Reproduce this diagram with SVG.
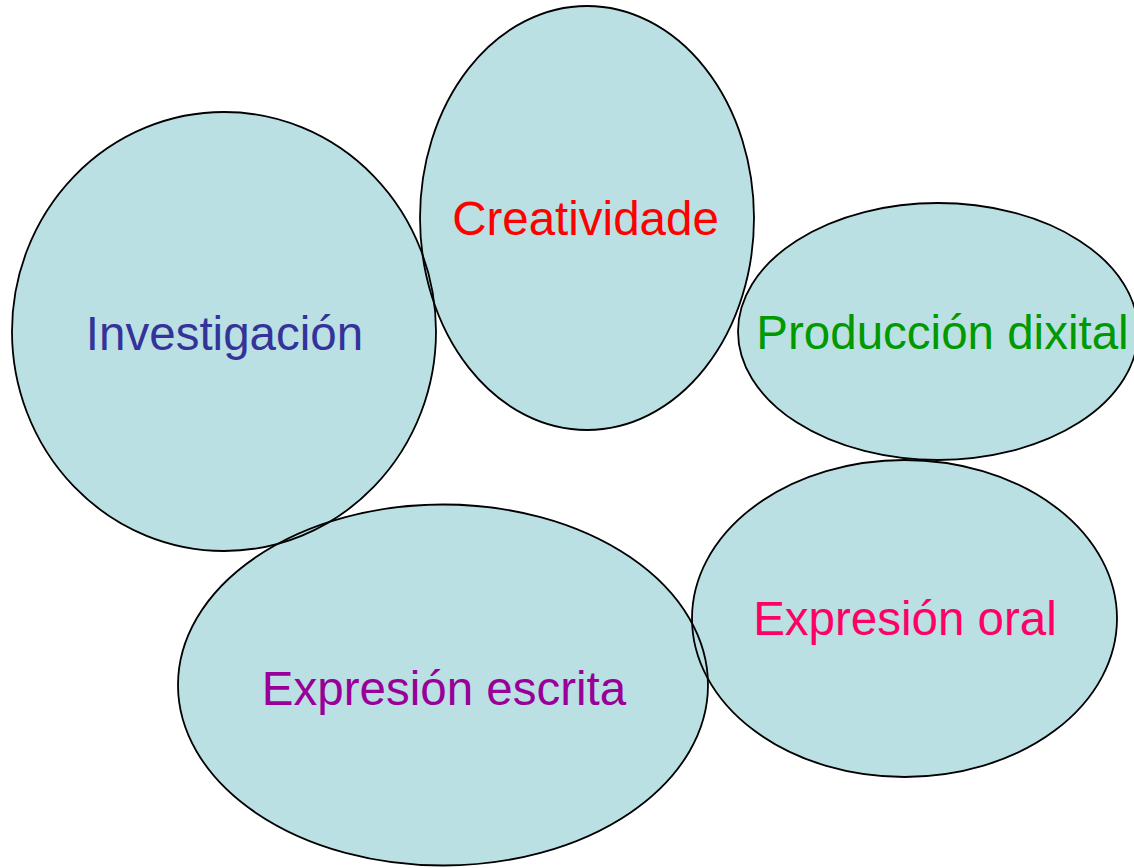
<svg xmlns="http://www.w3.org/2000/svg" width="1134" height="868" viewBox="0 0 1134 868">
<style>
.bub{fill:#BBE0E3;stroke:none}
.ol{fill:none;stroke:#000;stroke-width:1.8}
.t{font-family:"Liberation Sans",Arial,sans-serif;font-size:47.5px;text-anchor:middle}
</style>
<rect width="1134" height="868" fill="#fff"/>
<g id="investigacion">
<ellipse class="bub" cx="224" cy="331.5" rx="212" ry="219.5"/>
</g>
<g id="creatividade">
<ellipse class="bub" cx="587" cy="218" rx="167" ry="212"/>
</g>
<g id="produccion-dixital">
<ellipse class="bub" cx="938" cy="331.5" rx="200" ry="128.5"/>
</g>
<g id="expresion-oral">
<ellipse class="bub" cx="904.5" cy="618.5" rx="212.5" ry="158.5"/>
</g>
<g id="expresion-escrita">
<ellipse class="bub" cx="443" cy="685" rx="265" ry="180.5"/>
</g>
<g id="outlines">
<ellipse class="ol" cx="224" cy="331.5" rx="212" ry="219.5"/>
<ellipse class="ol" cx="587" cy="218" rx="167" ry="212"/>
<ellipse class="ol" cx="938" cy="331.5" rx="200" ry="128.5"/>
<ellipse class="ol" cx="904.5" cy="618.5" rx="212.5" ry="158.5"/>
<ellipse class="ol" cx="443" cy="685" rx="265" ry="180.5"/>
</g>
<g id="labels">
<text class="t" x="224.5" y="350" fill="#333399">Investigación</text>
<text class="t" x="585.5" y="235" fill="#FF0000">Creatividade</text>
<text class="t" x="942.5" y="349" fill="#009900">Producción dixital</text>
<text class="t" x="905" y="635" fill="#FF0066">Expresión oral</text>
<text class="t" x="444" y="705" fill="#990099">Expresión escrita</text>
</g>
</svg>
